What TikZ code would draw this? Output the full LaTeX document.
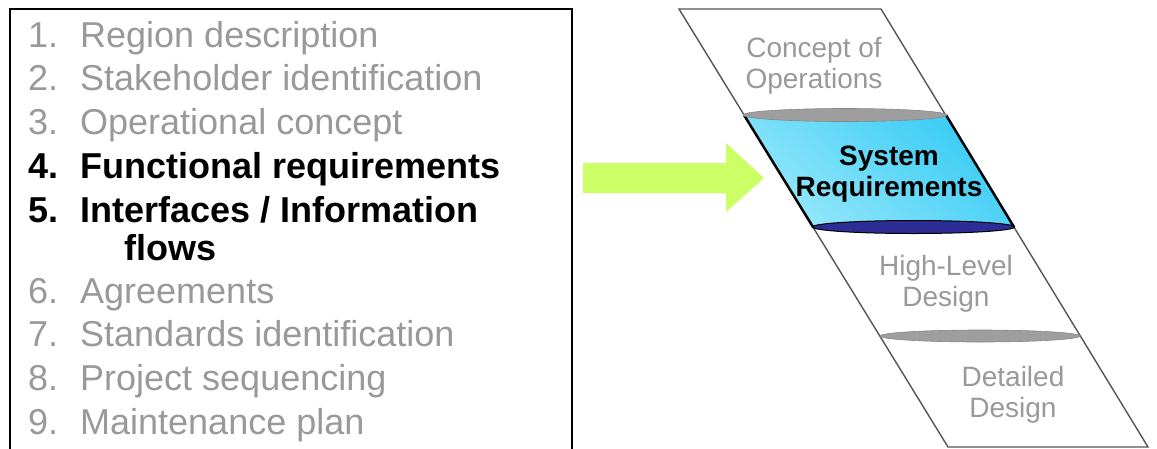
\documentclass[tikz,border=0pt]{standalone}
\usepackage{fontspec}
\setmainfont{Liberation Sans}
\usepackage{tikz}
\usetikzlibrary{positioning, calc}
\definecolor{txtgray}{RGB}{153,153,153}
\definecolor{arrowgreen}{RGB}{204,255,102}
\definecolor{reqlight}{RGB}{150,232,250}
\definecolor{reqdeep}{RGB}{55,203,245}
\definecolor{ringgray}{RGB}{158,158,158}
\definecolor{ringblue}{RGB}{45,45,150}
\definecolor{stripline}{RGB}{85,85,85}
\newcommand{\itemno}[1]{\makebox[52pt][l]{#1}}

\begin{document}
\begin{tikzpicture}[
    x=1pt, y=-1pt,
    node distance=7.5pt,
    item/.style={anchor=north west, inner sep=0pt, text height=27pt, text depth=9pt, font=\fontsize{36}{38}\selectfont, text=txtgray},
    itemhi/.style={item, font=\fontsize{36}{38}\selectfont\bfseries, text=black},
    phase/.style={align=center, inner sep=0pt, font=\fontsize{28}{31}\selectfont, text=txtgray},
    phasehi/.style={phase, font=\fontsize{28}{31}\selectfont\bfseries, text=black},
    ring/.style={fill=ringgray, draw=ringgray!85!black, line width=0.6pt}
]
\useasboundingbox (0,0) rectangle (1157,448);

% --- Plan contents (left box) ---
\draw[line width=2pt] (10,452) |- (572,9) -- (572,452);
\node[item, anchor=base west] (i1) at (28,47) {\itemno{1.}Region description};
\node[below=of i1.south west, item]   (i2)  {\itemno{2.}Stakeholder identification};
\node[below=of i2.south west, item]   (i3)  {\itemno{3.}Operational concept};
\node[below=of i3.south west, itemhi] (i4)  {\itemno{4.}Functional requirements};
\node[below=of i4.south west, itemhi] (i5)  {\itemno{5.}Interfaces / Information};
\node[below=1pt of i5.south west, itemhi, xshift=96pt] (i5b) {flows};
\node[below=44pt of i5.south west, item] (i6) {\itemno{6.}Agreements};
\node[below=of i6.south west, item]   (i7)  {\itemno{7.}Standards identification};
\node[below=of i7.south west, item]   (i8)  {\itemno{8.}Project sequencing};
\node[below=of i8.south west, item]   (i9)  {\itemno{9.}Maintenance plan};

% --- Block arrow ---
\fill[arrowgreen] (583,163) -- (726,163) -- (726,143) -- (764,178)
    -- (726,212) -- (726,193) -- (583,193) -- cycle;

% --- V-strip ---
\coordinate (s-tl) at (679,9);
\coordinate (s-tr) at (881,9);
\coordinate (s-br) at (1148,447);
\coordinate (s-bl) at (948,447);
\draw[stripline, line width=1.4pt] (s-tl) -- (s-tr) -- (s-br) -- (s-bl) -- cycle;

% --- Highlighted step ---
\coordinate (r-tl) at (744,115);
\coordinate (r-tr) at (946,115);
\coordinate (r-br) at (1014,227);
\coordinate (r-bl) at (813,227);
\shade[top color=reqdeep, bottom color=reqlight, shading angle=-40] (r-tl) -- (r-tr) -- (r-br) -- (r-bl) -- cycle;
\draw[line width=2.5pt] (r-tl) -- (r-bl);
\draw[line width=2.5pt] (r-tr) -- (r-br);
\filldraw[fill=ringblue, draw=black, line width=1pt] (913.5,227) ellipse [x radius=101, y radius=6.5];
\filldraw[ring] (845,115) ellipse [x radius=102, y radius=6.5];
\filldraw[ring] (980,336) ellipse [x radius=100, y radius=6];

% --- Step labels ---
\node[phase]   (conops) at (814,66)  {Concept of\\Operations};
\node[phasehi] (sysreq) at (889,174) {System\\Requirements};
\node[phase]   (hld)    at (946,284) {High-Level\\Design};
\node[phase]   (dd)     at (1013,395) {Detailed\\Design};
\end{tikzpicture}
\end{document}
